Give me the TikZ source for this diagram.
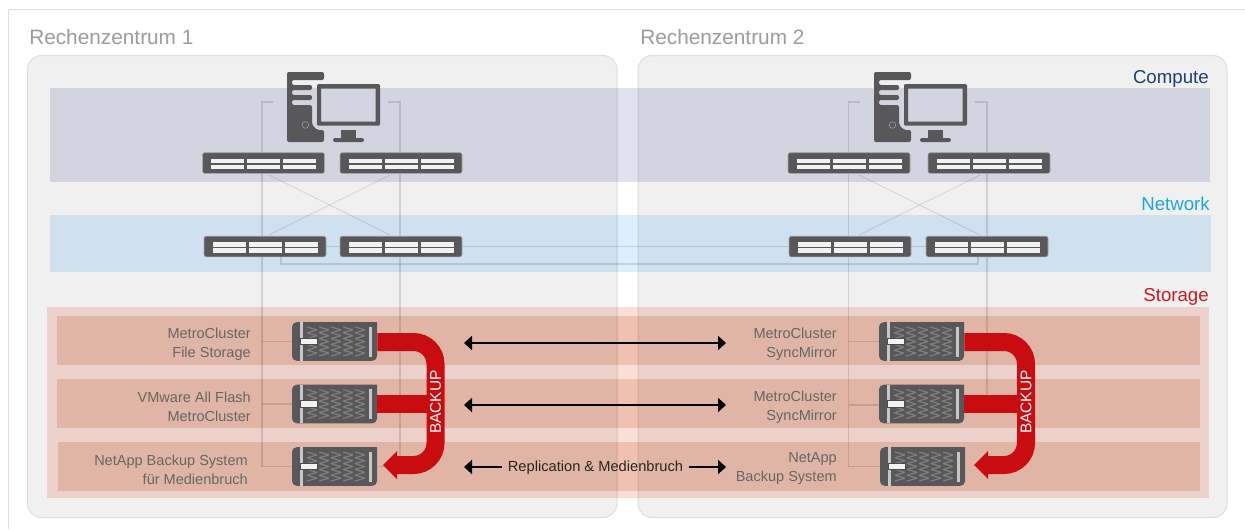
\documentclass[tikz,border=0pt]{standalone}
\usepackage{fontspec}
\setmainfont{Liberation Sans}
\usetikzlibrary{arrows.meta,calc}
\definecolor{panelfill}{HTML}{F0F0F0}
\definecolor{paneledge}{HTML}{DEDEDE}
\definecolor{dark}{HTML}{58585A}
\definecolor{barwhite}{HTML}{F2F2F2}
\definecolor{bandcompute}{RGB}{224,227,238}
\definecolor{bandnetwork}{RGB}{220,239,253}
\definecolor{bandstorage}{RGB}{250,223,214}
\definecolor{bandrow}{RGB}{245,221,210}
\definecolor{backupred}{HTML}{C90C10}
\definecolor{lblgray}{HTML}{666666}
\definecolor{dcgray}{HTML}{9C9C9C}
\definecolor{computeblue}{HTML}{1F4070}
\definecolor{networkblue}{HTML}{1AA7DD}
\definecolor{storagered}{HTML}{CC1A22}
\tikzset{
  panel/.style={fill=panelfill,draw=paneledge,line width=.75pt,rounded corners=10.5pt},
  link/.style={draw=black,draw opacity=.12,line width=.8pt},
  dclabel/.style={text=dcgray,font=\fontsize{15.6}{18}\selectfont,anchor=west,inner sep=0pt},
  layerlabel/.style={font=\fontsize{14}{16}\selectfont,anchor=east,inner sep=0pt},
  unitlabel/.style={text=lblgray,font=\fontsize{10.9}{14.2}\selectfont,align=right,anchor=east,inner sep=0pt},
  replabel/.style={text=black!85,font=\fontsize{11}{13}\selectfont,inner xsep=4.5pt,inner ysep=0pt},
  bothways/.style={line width=1.5pt,black,{Triangle[length=6pt,width=10.5pt]}-{Triangle[length=6pt,width=10.5pt]}},
  oneway/.style={line width=1.5pt,black,-{Triangle[length=6pt,width=10.5pt]}},
  backupband/.style={draw=backupred,line width=13.5pt,rounded corners=16.5pt},
  backuptxt/.style={text=white,font=\fontsize{11.6}{13}\selectfont,rotate=90,inner sep=0pt},
  switchbox/.style={fill=dark,draw=black!35,line width=.4pt,rounded corners=1.5pt,minimum width=91.5pt,minimum height=15.4pt,inner sep=0pt},
  unitbox/.style={minimum width=63.75pt,minimum height=29pt,inner sep=0pt},
}
% name, centre x, centre y
\newcommand{\switchunit}[3]{%
  \node[switchbox] (#1) at (#2,#3) {};
  \begin{scope}[shift={(#2,#3)}]
    \foreach \bx in {-52.5,-16.5,19.5}{
      \fill[barwhite] (\bx,-4.4) rectangle ++(33,4.5);
      \fill[barwhite] (\bx,1.8) rectangle ++(33,4.4);
    }
  \end{scope}}
% name, centre x, centre y
\newcommand{\storageunit}[3]{%
  \node[unitbox] (#1) at (#2,#3) {};
  \begin{scope}[shift={(#2,#3)}]
    \fill[dark,rounded corners=3.5pt] (-42.5,-19.3) -- (-42.5,19.3) -- (42.5,19.3) [sharp corners] -- (42.5,-19.3) [rounded corners=3.5pt] -- cycle;
    \foreach \cx in {-27.5,-15.5,-3.5,8.5,20.5}{
      \draw[black!50,line width=.85pt,line join=bevel]
        (\cx,-14.5) -- ++(10,2.9) -- ++(-10,2.9) -- ++(10,2.9) -- ++(-10,2.9) -- ++(10,2.9) -- ++(-10,2.9)
        -- ++(10,2.9) -- ++(-10,2.9) -- ++(10,2.9) -- ++(-10,2.9);
    }
    \fill[black!22] (-34.5,-19.3) rectangle (-32,19.3);
    \fill[black!22] (34.5,-15) rectangle (37.5,15);
    \fill[barwhite,draw=black!70,line width=.4pt] (-34.5,-3.4) rectangle (-17,3.2);
  \end{scope}}
% name, left x of tower, top y
\newcommand{\workstation}[3]{%
  \begin{scope}[shift={(#2,#3)}]
    \node[inner sep=0pt,minimum size=0pt] (#1) at (46,35) {};
    \fill[dark,rounded corners=1.5pt] (0,0) -- (37,0) -- (37,8) -- (5,8) -- (5,13) -- (25,13) -- (25,18) -- (5,18) -- (5,23) -- (25,23) -- (25,28) -- (5,28) -- (5,33) -- (25,33) -- (25,53) -- (30,58) -- (37,58) -- (37,70) -- (0,70) -- cycle;
    \draw[black!35,line width=.35pt] (18.5,53) circle [radius=3.3];
    \fill[dark,even odd rule] [rounded corners=1pt] (30,12) rectangle (93,53.7) [sharp corners] (34,16.7) rectangle (88.7,49.7);
    \fill[dark] (54,58) rectangle (69,67);
    \fill[dark,rounded corners=1.5pt] (46,66) rectangle (77,70);
  \end{scope}}
\begin{document}
\begin{tikzpicture}[x=0.75pt,y=-0.75pt]
\useasboundingbox (0,0) rectangle (1245,529);
\fill[white] (0,0) rectangle (1245,529);
\draw[paneledge,line width=.9pt] (1245,9.5) -- (8.5,9.5) -- (8.5,529);

\node[dclabel] (dc1) at (29,37) {Rechenzentrum 1};
\node[dclabel] (dc2) at (640,37) {Rechenzentrum 2};

\draw[panel] (27.5,55.5) rectangle (617,517.5);
\draw[panel] (638,55.5) rectangle (1227,517.5);

\begin{scope}[blend mode=multiply]
  \fill[bandcompute] (50,88) rectangle (1210,182);
  \fill[bandnetwork] (50,215) rectangle (1211,272);
  \fill[bandstorage] (47,307) rectangle (1209,498);
  \fill[bandrow] (57,316) rectangle (1200,365);
  \fill[bandrow] (57,379) rectangle (1200,428);
  \fill[bandrow] (58,442) rectangle (1200,491);
\end{scope}

\node[layerlabel,text=computeblue] (lc) at (1209,78.5) {Compute};
\node[layerlabel,text=networkblue] (ln) at (1210,204) {Network};
\node[layerlabel,text=storagered] (ls) at (1209,296.5) {Storage};

% free ends of connectors
\coordinate (a1) at (273,102);  \coordinate (a1c) at (262,102);
\coordinate (b1) at (388,102);  \coordinate (b1c) at (400,102);
\coordinate (a2) at (860,102);  \coordinate (a2c) at (848.5,102);
\coordinate (b2) at (975,102);  \coordinate (b2c) at (987,102);
\coordinate (b2e) at (987,395);
\coordinate (x1) at (269,175); \coordinate (x2) at (390,175);
\coordinate (x3) at (269,235); \coordinate (x4) at (390,235);
\coordinate (x5) at (859,175); \coordinate (x6) at (980,175);
\coordinate (x7) at (859,235); \coordinate (x8) at (980,235);
\coordinate (nlo) at (281,257); \coordinate (nlb) at (281,264);
\coordinate (nro) at (978,257);

\path (292,341.5) coordinate (u1w) (292,404) coordinate (u2w) (292,466.5) coordinate (u3w);
\path (377,466.5) coordinate (u3e);
\path (879,341.5) coordinate (v1w) (879,405) coordinate (v2w) (880,466.5) coordinate (v3w);

\draw[link] (a1) -- (a1c) |- (u3w);
\draw[link] (a1c |- u1w) -- (u1w);
\draw[link] (a1c |- u2w) -- (u2w);
\draw[link] (b1) -- (b1c) |- (u3e);
\draw[link] (a2) -- (a2c) |- (v3w);
\draw[link] (a2c |- v1w) -- (v1w);
\draw[link] (a2c |- v2w) -- (v2w);
\draw[link] (b2) -- (b2c) -- (b2e);
\draw[link,line width=.6pt] (x1) -- (x4);
\draw[link,line width=.6pt] (x2) -- (x3);
\draw[link,line width=.6pt] (x5) -- (x8);
\draw[link,line width=.6pt] (x6) -- (x7);

\switchunit{sc1}{263.5}{163}
\switchunit{sc2}{401}{163}
\switchunit{sc3}{849}{163}
\switchunit{sc4}{989}{163}
\switchunit{sn1}{265}{246.5}
\switchunit{sn2}{401}{246.5}
\switchunit{sn3}{850}{246.5}
\switchunit{sn4}{987}{246.5}
\draw[link] (sn1.east) -- (sn2.west);
\draw[link] (sn2.east) -- (sn3.west);
\draw[link] (sn3.east) -- (sn4.west);
\draw[link] (nlo) -- (nlb) -| (nro);

\workstation{pc1}{287}{72}
\workstation{pc2}{874}{72}

\storageunit{u1}{334.5}{341.5}
\storageunit{u2}{334.5}{404}
\storageunit{u3}{334.5}{466.5}
\storageunit{v1}{921.5}{341.5}
\storageunit{v2}{921.5}{404}
\storageunit{v3}{922.5}{466.5}

% backup arrows
\coordinate (bk1a) at (435.5,342); \coordinate (bk1b) at (435.5,465); \coordinate (bk1c) at (397,465);
\coordinate (bk1t) at (383,465); \coordinate (bk1u) at (397,451); \coordinate (bk1l) at (397,479);
\coordinate (bk2a) at (1026,342); \coordinate (bk2b) at (1026,465); \coordinate (bk2c) at (988,465);
\coordinate (bk2t) at (974,465); \coordinate (bk2u) at (988,451); \coordinate (bk2l) at (988,479);

\draw[backupband] (u1.east |- bk1a) -- (bk1a) -- (bk1b) -- (bk1c);
\draw[draw=backupred,line width=13.5pt] (u2.east) -- (bk1a |- u2.east);
\fill[backupred] (bk1t) -- (bk1u) -- (bk1l) -- cycle;
\node[backuptxt] (bt1) at (435.5,402) {BACKUP};

\draw[backupband] (v1.east |- bk2a) -- (bk2a) -- (bk2b) -- (bk2c);
\draw[draw=backupred,line width=13.5pt] (v2.east) -- (bk2a |- v2.east);
\fill[backupred] (bk2t) -- (bk2u) -- (bk2l) -- cycle;
\node[backuptxt] (bt2) at (1026,402) {BACKUP};

% unit labels
\node[unitlabel] (t1) at (251,344) {MetroCluster\\File Storage};
\node[unitlabel] (t2) at (251,407) {VMware All Flash\\MetroCluster};
\node[unitlabel] (t3) at (248,469.5) {NetApp Backup System\\für Medienbruch};
\node[unitlabel] (t4) at (837,344) {MetroCluster\\SyncMirror};
\node[unitlabel] (t5) at (837,407) {MetroCluster\\SyncMirror};
\node[unitlabel] (t6) at (837,468.5) {NetApp\\Backup System};

% replication arrows
\coordinate (r1l) at (464,343); \coordinate (r1r) at (726,343);
\coordinate (r2l) at (464,405); \coordinate (r2r) at (726,405);
\coordinate (r3l) at (464,467); \coordinate (r3r) at (726,467);
\draw[bothways] (r1l) -- (r1r);
\draw[bothways] (r2l) -- (r2r);
\node[replabel] (rep) at (595.5,467.5) {Replication \& Medienbruch};
\draw[oneway] (rep.west |- r3l) -- (r3l);
\draw[oneway] (rep.east |- r3r) -- (r3r);
\end{tikzpicture}
\end{document}
